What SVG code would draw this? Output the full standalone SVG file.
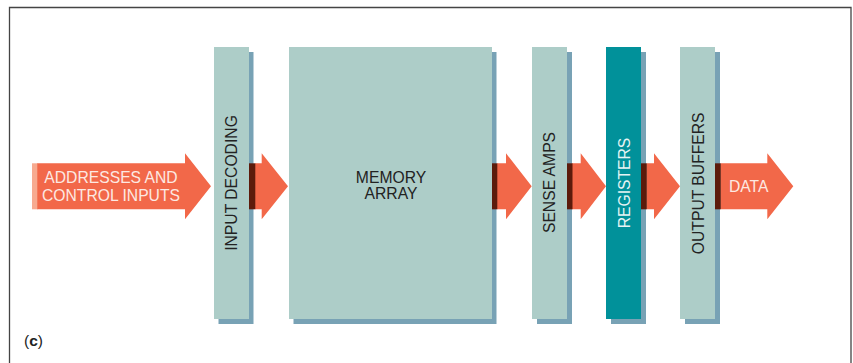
<svg xmlns="http://www.w3.org/2000/svg" width="853" height="363" viewBox="0 0 853 363">
<defs>
<style>
.bar{fill:#adcdc8}
.reg{fill:#01919a}
.sh{fill:#78a2b5}
.arr{fill:#f26849}
.dk{fill:#5c1b0b}
.lt{fill:#f7aa90}
.t{font-family:"Liberation Sans",Arial,sans-serif;font-size:15.7px;fill:#222}
.w{font-family:"Liberation Sans",Arial,sans-serif;font-size:15.7px;fill:#fde9e2}
.rw{fill:#e6f4f4}
</style>
</defs>
<rect width="853" height="363" fill="#fff"/>
<path d="M9.5 363 V7.5 H851 V363" fill="none" stroke="#444" stroke-width="1.3"/>

<g id="input-decoding">
<rect class="sh" x="218.5" y="52" width="35" height="272"/>
<rect class="bar" x="214" y="47" width="35" height="272"/>
<text class="t" text-anchor="middle" transform="translate(236.5,183) rotate(-90)">INPUT DECODING</text>
</g>
<g id="memory-array">
<rect class="sh" x="293.5" y="52" width="203" height="272"/>
<rect class="bar" x="289" y="47" width="203" height="272"/>
<text class="t" text-anchor="middle" x="391" y="182.7">MEMORY</text>
<text class="t" text-anchor="middle" x="391" y="199.3">ARRAY</text>
</g>
<g id="sense-amps">
<rect class="sh" x="537" y="52" width="35" height="272"/>
<rect class="bar" x="532" y="47" width="35" height="272"/>
<text class="t" text-anchor="middle" transform="translate(555,182.5) rotate(-90)">SENSE AMPS</text>
</g>
<g id="registers">
<rect class="sh" x="611" y="52" width="35" height="272"/>
<rect class="reg" x="606" y="47" width="35" height="272"/>
<text class="t rw" text-anchor="middle" transform="translate(629.5,183) rotate(-90)">REGISTERS</text>
</g>
<g id="output-buffers">
<rect class="sh" x="685" y="52" width="35" height="272"/>
<rect class="bar" x="680" y="47" width="35" height="272"/>
<text class="t" text-anchor="middle" transform="translate(703.5,183.3) rotate(-90)">OUTPUT BUFFERS</text>
</g>

<g id="connectors">
<rect class="lt" x="32" y="163.3" width="6" height="46"/>
<polygon class="arr" points="37.3,163.3 185,163.3 185,153.3 211,186.3 185,219.3 185,209.3 37.3,209.3"/>
<text class="w" text-anchor="middle" x="111" y="182.7">ADDRESSES AND</text>
<text class="w" text-anchor="middle" x="111" y="201">CONTROL INPUTS</text>

<polygon class="arr" points="255,163.3 261.7,163.3 261.7,153.3 288,186.3 261.7,219.3 261.7,209.3 255,209.3"/>
<rect class="dk" x="249" y="163.3" width="6.3" height="46"/>

<polygon class="arr" points="497,163.3 506,163.3 506,153.3 531.7,186.3 506,219.3 506,209.3 497,209.3"/>
<rect class="dk" x="492" y="163.3" width="5.3" height="46"/>

<polygon class="arr" points="572,163.3 580.7,163.3 580.7,153.3 606,186.3 580.7,219.3 580.7,209.3 572,209.3"/>
<rect class="dk" x="567" y="163.3" width="5.5" height="46"/>

<polygon class="arr" points="646.5,163.3 654,163.3 654,153.3 680,186.3 654,219.3 654,209.3 646.5,209.3"/>
<rect class="dk" x="641" y="163.3" width="5.8" height="46"/>

<polygon class="arr" points="720.5,163.3 767.3,163.3 767.3,153.3 793.3,186.3 767.3,219.3 767.3,209.3 720.5,209.3"/>
<rect class="dk" x="715" y="163.3" width="5.8" height="46"/>
<text class="w" text-anchor="middle" x="748.7" y="192.3">DATA</text>
</g>

<text x="24" y="346" font-family="'Liberation Sans',Arial,sans-serif" font-size="15.5" fill="#222">(<tspan font-weight="bold">c</tspan>)</text>
</svg>
